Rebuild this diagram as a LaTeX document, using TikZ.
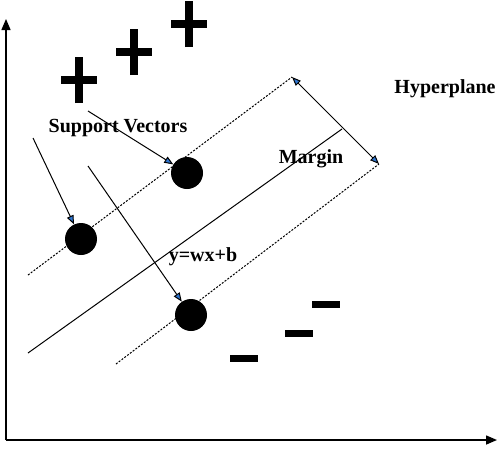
\documentclass[tikz,border=0pt]{standalone}
\usepackage{fontspec}
\setmainfont{Liberation Serif}
\usetikzlibrary{arrows.meta}
\definecolor{tipblue}{RGB}{46,117,208}
\tikzset{
  axisline/.style={line width=1.5pt,-{Triangle[length=11pt,width=9pt]}},
  hyper/.style={line width=1pt},
  marginline/.style={line width=1pt,dash pattern=on 2pt off 1.5pt},
  bluearrow/.style={line width=1pt,-{Triangle[length=9pt,width=7pt,fill=tipblue]}},
  dblarrow/.style={line width=1pt,{Triangle[length=9pt,width=7pt,fill=tipblue]}-{Triangle[length=9pt,width=7pt,fill=tipblue]}},
  sv/.style={circle,fill=black,minimum size=32pt,inner sep=0pt},
  bar/.style={line width=8pt},
  lbl/.style={font=\fontsize{20}{24}\selectfont\bfseries,inner sep=0pt}
}
\begin{document}
\begin{tikzpicture}[x=1pt,y=-1pt]
\useasboundingbox (0,0) rectangle (498,450);
% axes
\coordinate (O) at (6,440);
\coordinate (Ytop) at (6,19);
\coordinate (Xend) at (497,440);
\draw[axisline] (O) -- (Ytop);
\draw[axisline] (O) -- (Xend);
% plus signs
\foreach \n/\cx/\cy in {p1/79/80, p2/134/52, p3/189/24}{
  \coordinate (\n) at (\cx,\cy);
  \draw[bar] ([xshift=-18pt]\n) -- ([xshift=18pt]\n);
  \draw[bar] ([yshift=-23pt]\n) -- ([yshift=23pt]\n);
}
% minus signs
\foreach \n/\cx/\cy in {m1/244/358, m2/299/333, m3/326/304}{
  \coordinate (\n) at (\cx,\cy);
  \draw[line width=7pt] ([xshift=-14pt]\n) -- ([xshift=14pt]\n);
}
% hyperplane and margins
\coordinate (h1) at (28,353);
\coordinate (h2) at (342,129);
\coordinate (u1) at (28,275);
\coordinate (u2) at (292,77);
\coordinate (l1) at (116,364);
\coordinate (l2) at (379,164);
\draw[hyper] (h1) -- (h2);
\draw[marginline] (u1) -- (u2);
\draw[marginline] (l1) -- (l2);
\draw[dblarrow] (u2) -- (l2);
% support vectors
\node[sv] (c1) at (187,173) {};
\node[sv] (c2) at (81,239) {};
\node[sv] (c3) at (191,315) {};
\coordinate (s1) at (88,111);
\coordinate (s2) at (33,138);
\coordinate (s3) at (88,166);
\draw[bluearrow] (s1) -- (c1);
\draw[bluearrow] (s2) -- (c2);
\draw[bluearrow] (s3) -- (c3);
% labels
\node[lbl,anchor=base] (tsv) at (118,132) {Support Vectors};
\node[lbl,anchor=base] (tm) at (311,163) {Margin};
\node[lbl,anchor=base] (th) at (445,93) {Hyperplane};
\node[lbl,anchor=base] (ty) at (203,261) {y=wx+b};
\end{tikzpicture}
\end{document}
